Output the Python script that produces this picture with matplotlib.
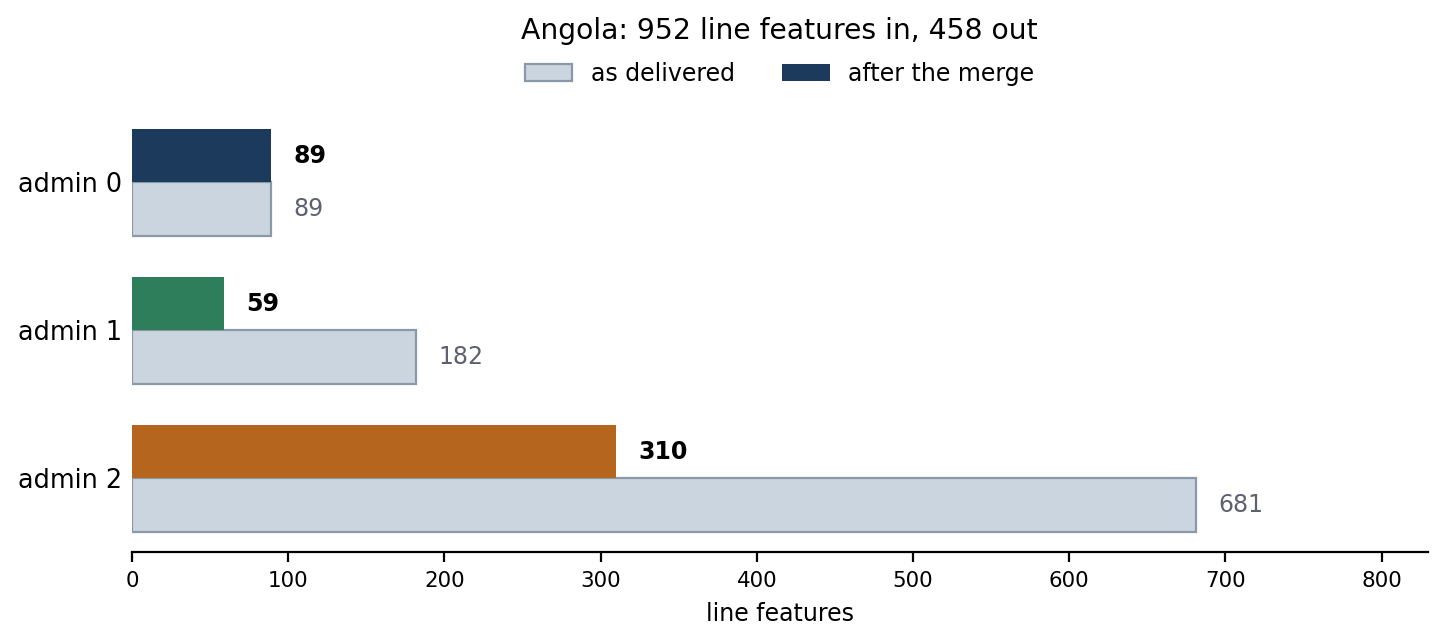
import matplotlib.pyplot as plt
import numpy as np

levels = ["admin 0", "admin 1", "admin 2"]
delivered = [89, 182, 681]
merged = [89, 59, 310]
merged_colors = ["#1b3a5c", "#2e7d5b", "#b5651d"]


def main():
    fig, ax = plt.subplots(figsize=(7.225, 3.22), dpi=200)
    fig.subplots_adjust(left=0.0913, right=0.988, bottom=0.143, top=0.831)

    y = np.arange(len(levels))
    h = 0.36

    ax.barh(y + h / 2, delivered, height=h, color="#cbd5df",
            edgecolor="#8a99a8", linewidth=0.8, label="as delivered")
    ax.barh(y - h / 2, merged, height=h, color=merged_colors,
            label="after the merge")

    for yi, v in zip(y, delivered):
        ax.annotate(str(v), (v, yi + h / 2), xytext=(8, 0),
                    textcoords="offset points", va="center", ha="left",
                    fontsize=8.5, color="#5f6070")
    for yi, v in zip(y, merged):
        ax.annotate(str(v), (v, yi - h / 2), xytext=(8, 0),
                    textcoords="offset points", va="center", ha="left",
                    fontsize=8.5, fontweight="bold", color="black")

    ax.set_yticks(y)
    ax.set_yticklabels(levels, fontsize=9.2)
    ax.tick_params(axis="y", length=0)
    ax.tick_params(axis="x", labelsize=7.7)
    ax.invert_yaxis()
    ax.set_xlim(0, max(delivered) * 1.218)
    ax.set_xlabel("line features", fontsize=8.5)

    for side in ["top", "right", "left"]:
        ax.spines[side].set_visible(False)

    ax.legend(loc="lower center", bbox_to_anchor=(0.5, 1.004), ncol=2,
              frameon=False, fontsize=8.5, columnspacing=2.0)
    ax.set_title("Angola: 952 line features in, 458 out", fontsize=10.2, pad=25)

    fig.savefig("out.png", dpi=200)


if __name__ == "__main__":
    main()
